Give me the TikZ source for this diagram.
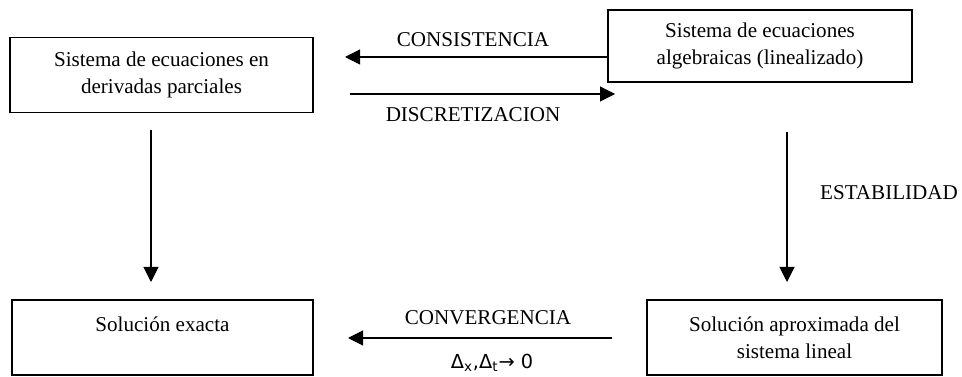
\documentclass[tikz,border=0pt]{standalone}
\usepackage{fontspec}
\setmainfont{Liberation Serif}
\newfontfamily\formula{DejaVu Sans}
\usetikzlibrary{arrows.meta}
\tikzset{
	caja/.style={draw, line width=1.1pt, align=center, inner sep=0pt, font=\fontsize{12}{15.5}\selectfont},
	flecha/.style={line width=0.6pt, -{Triangle[length=0.3cm, width=0.3cm]}},
	rotulo/.style={font=\fontsize{12}{13.5}\selectfont}
}

\begin{document}
\begin{tikzpicture}[x=0.02cm, y=-0.02cm]
			%%%%% START %%%%%
			
			\useasboundingbox (0, 0) rectangle (962, 377);
			
			\node[caja, minimum width=6.06cm, minimum height=1.5cm] (edp) at (161.5, 75) {Sistema de ecuaciones en\\derivadas parciales};
			\node[caja, minimum width=6.08cm, minimum height=1.45cm] (alg) at (760, 46) {Sistema de ecuaciones\\algebraicas (linealizado)};
			\node[caja, minimum width=5.9cm, minimum height=1.5cm] (aprox) at (794.5, 337.5) {Solución aproximada del\\sistema lineal};
			\node[caja, minimum width=6.02cm, minimum height=1.5cm] (exacta) at (162.5, 337.5) {Solución exacta\\~};
			
			\coordinate (consFin) at (345, 57);
			\draw[flecha] (alg.west |- consFin) -- (consFin);
			\node[rotulo] (cons) at (473, 40) {CONSISTENCIA};
			
			\coordinate (discIni) at (350, 94);
			\coordinate (discFin) at (615, 94);
			\draw[flecha] (discIni) -- (discFin);
			\node[rotulo] (disc) at (473, 115) {DISCRETIZACION};
			
			\coordinate (izqIni) at (151, 130);
			\coordinate (izqFin) at (151, 282);
			\draw[flecha] (izqIni) -- (izqFin);
			
			\coordinate (derIni) at (787, 132);
			\coordinate (derFin) at (787, 282);
			\draw[flecha] (derIni) -- (derFin);
			\node[rotulo] (estab) at (889, 193) {ESTABILIDAD};
			
			\coordinate (convIni) at (612, 338);
			\coordinate (convFin) at (348, 338);
			\draw[flecha] (convIni) -- (convFin);
			\node[rotulo] (conv) at (488, 318) {CONVERGENCIA};
			\node[font=\formula\fontsize{11}{13}\selectfont] (lim) at (492, 363) {Δ\textsubscript{x},Δ\textsubscript{t}→ 0};
			
			%%%%% END %%%%%
\end{tikzpicture}
\end{document}
